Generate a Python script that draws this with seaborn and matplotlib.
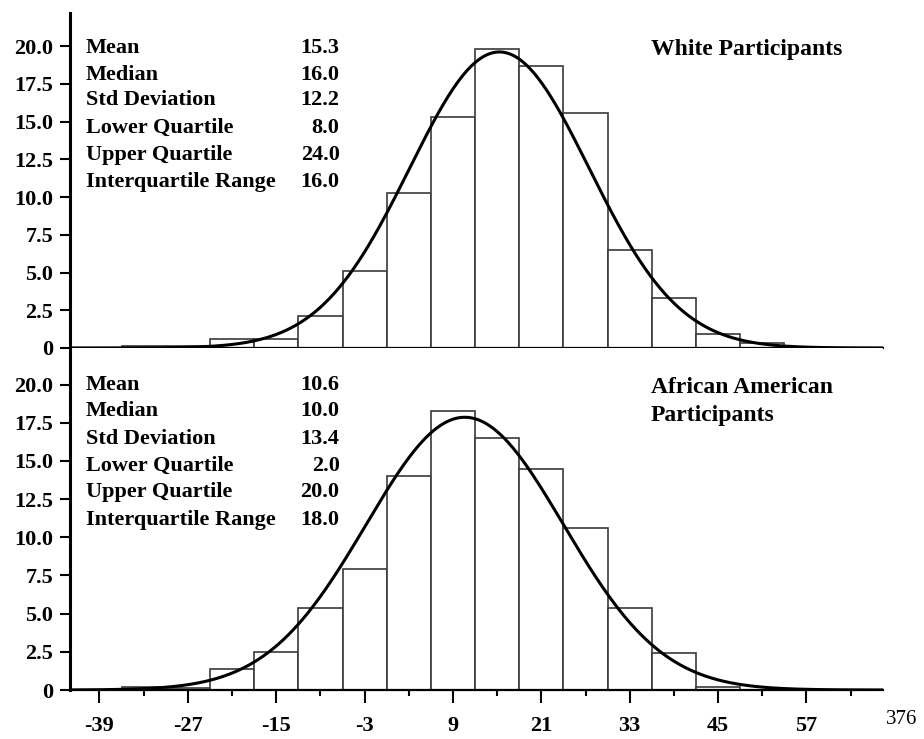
"""Histograms of scores for White and African American participants with normal fits."""

import matplotlib

matplotlib.use("Agg")

import matplotlib.pyplot as plt
import numpy as np
import seaborn as sns


# left edges of the 6-point bins
bin_lefts = [-36, -30, -24, -18, -12, -6, 0, 6, 12, 18, 24, 30, 36, 42, 48]
bin_width = 6

white_pct = [0.1, 0.1, 0.6, 0.6, 2.1, 5.1, 10.3, 15.3, 19.8, 18.7, 15.6, 6.5, 3.3, 0.9, 0.3]
black_pct = [0.2, 0.1, 1.4, 2.5, 5.4, 7.9, 14.0, 18.3, 16.5, 14.5, 10.6, 5.4, 2.4, 0.2, 0.0]

stat_names = ["Mean", "Median", "Std Deviation", "Lower Quartile", "Upper Quartile", "Interquartile Range"]
white_stats = [15.3, 16.0, 12.2, 8.0, 24.0, 16.0]
black_stats = [10.6, 10.0, 13.4, 2.0, 20.0, 18.0]

x_major = [-39, -27, -15, -3, 9, 21, 33, 45, 57]
x_minor = [-33, -21, -9, 3, 15, 27, 39, 51, 63]
y_ticks = [0, 2.5, 5.0, 7.5, 10.0, 12.5, 15.0, 17.5, 20.0]
y_labels = ["0", "2.5", "5.0", "7.5", "10.0", "12.5", "15.0", "17.5", "20.0"]

sns.set_style("ticks")
plt.rcParams["font.family"] = ["Liberation Serif", "DejaVu Serif"]
plt.rcParams["font.weight"] = "bold"
plt.rcParams["text.color"] = "black"
plt.rcParams["xtick.color"] = "black"
plt.rcParams["ytick.color"] = "black"
plt.rcParams["axes.edgecolor"] = "black"

XLIM = (-43.0, 67.4)


def draw_panel(ax, pct, stats, title_lines, ytop, text_rows):
    edges = bin_lefts + [bin_lefts[-1] + bin_width]
    centers = [b + bin_width / 2 for b in bin_lefts]
    keep = [i for i, v in enumerate(pct) if v > 0]
    sns.histplot(
        x=[centers[i] for i in keep],
        weights=[pct[i] for i in keep],
        bins=edges,
        ax=ax,
        color="white",
        edgecolor="#3a3a3a",
        linewidth=1.2,
        alpha=1,
    )

    # fitted normal curve from the reported mean and SD
    mean, sd = stats[0], stats[2]
    xs = np.linspace(XLIM[0], XLIM[1], 500)
    ys = 100 * bin_width * np.exp(-0.5 * ((xs - mean) / sd) ** 2) / (sd * np.sqrt(2 * np.pi))
    sns.lineplot(x=xs, y=ys, ax=ax, color="black", linewidth=2.2)

    ax.set_xlim(*XLIM)
    ax.set_ylim(0, ytop)
    ax.set_xlabel("")
    ax.set_ylabel("")
    ax.set_yticks(y_ticks)
    ax.set_yticklabels(y_labels, fontsize=16, fontweight="bold")
    ax.tick_params(axis="y", direction="out", length=7, width=1.5, pad=5)
    sns.despine(ax=ax)
    ax.spines["left"].set_linewidth(2.2)
    ax.spines["bottom"].set_linewidth(1.6)

    for name, value, y in zip(stat_names, stats, text_rows):
        ax.text(-40.9, y, name, fontsize=16, fontweight="bold", ha="left", va="center")
        ax.text(-6.4, y, f"{value:.1f}", fontsize=16, fontweight="bold", ha="right", va="center")

    for k, line in enumerate(title_lines):
        ax.text(35.9, 19.8 - 1.8 * k, line, fontsize=17, fontweight="bold", ha="left", va="center")


fig = plt.figure(figsize=(9.24, 7.39), dpi=100)
ax_top = fig.add_axes([0.0758, 0.5291, 0.8799, 0.4533])
ax_bot = fig.add_axes([0.0758, 0.0663, 0.8799, 0.4628])

draw_panel(ax_top, white_pct, white_stats, ["White Participants"], 22.2,
           [19.9, 18.1, 16.45, 14.6, 12.8, 11.0])
draw_panel(ax_bot, black_pct, black_stats, ["African American", "Participants"], 22.4,
           [20.0, 18.25, 16.45, 14.7, 12.95, 11.15])

ax_top.tick_params(axis="x", bottom=False, labelbottom=False)

ax_bot.set_xticks(x_major)
ax_bot.set_xticklabels([str(v) for v in x_major], fontsize=16, fontweight="bold")
ax_bot.set_xticks(x_minor, minor=True)
ax_bot.tick_params(axis="x", which="major", direction="out", length=9.5, width=1.5, pad=9)
ax_bot.tick_params(axis="x", which="minor", direction="out", length=4, width=1.5)

fig.text(0.976, 0.026, "376", fontsize=15, fontweight="normal", ha="center", va="center")

fig.savefig("out.png", dpi=100)
